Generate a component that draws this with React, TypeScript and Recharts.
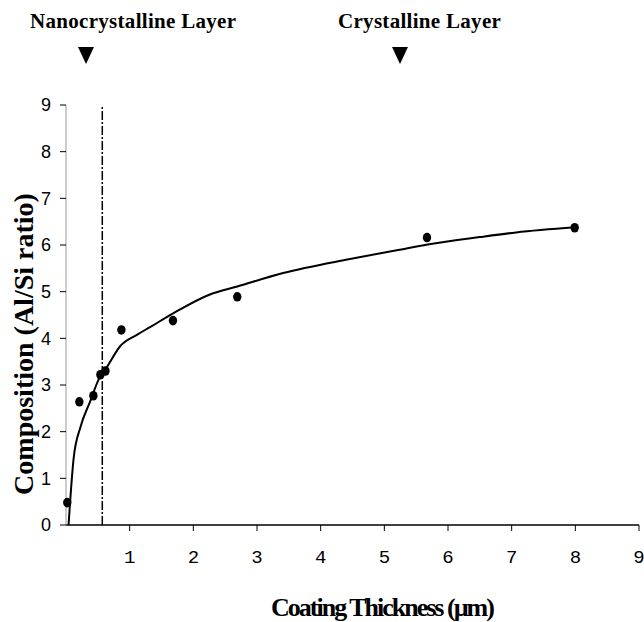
import { ComposedChart, Line, Scatter, XAxis, YAxis, ReferenceLine } from "recharts";

// measured points: coating thickness (um) vs Al/Si ratio
const thickness = [0.02, 0.21, 0.43, 0.54, 0.62, 0.87, 1.68, 2.69, 5.67, 7.99];
const ratio = [0.48, 2.64, 2.77, 3.22, 3.3, 4.18, 4.38, 4.89, 6.16, 6.37];

// fitted trend line
const fitX = [0.04, 0.12, 0.23, 0.38, 0.51, 0.65, 0.85, 1.12, 1.32, 1.69, 2.26, 2.69, 3.41, 4.46, 5.24, 5.68, 6.5, 7.07, 7.99];
const fitY = [0.0, 1.43, 2.11, 2.65, 3.11, 3.4, 3.83, 4.08, 4.24, 4.54, 4.94, 5.11, 5.4, 5.7, 5.9, 6.01, 6.17, 6.27, 6.38];

const xTicks = [1, 2, 3, 4, 5, 6, 7, 8, 9];
const yTicks = [0, 1, 2, 3, 4, 5, 6, 7, 8, 9];
const boundary = 0.57;

const points = thickness.map((x, i) => ({ x, y: ratio[i] }));
const fit = fitX.map((x, i) => ({ x, y: fitY[i] }));

const serif = "'Liberation Serif', 'Times New Roman', serif";

function Marker({ left }: { left: number }) {
  return (
    <svg style={{ position: "absolute", left: left - 8, top: 47 }} width={16} height={17}>
      <polygon points="0,0 16,0 8,17" fill="#000" />
    </svg>
  );
}

export default function App() {
  return (
    <div style={{ position: "absolute", left: 0, top: 0, width: 644, height: 622, background: "#fff" }}>
      <ComposedChart width={644} height={622} margin={{ top: 105, right: 5, left: 0, bottom: 57 }}>
        <XAxis
          type="number"
          dataKey="x"
          domain={[0, 9]}
          ticks={xTicks}
          interval={0}
          height={40}
          axisLine={{ stroke: "#000", strokeWidth: 1.5 }}
          tickLine={{ stroke: "#000" }}
          tickSize={6}
          tickMargin={19}
          tick={{ fill: "#000", fontSize: 19, fontFamily: "'Liberation Mono', monospace" }}
        />
        <YAxis
          type="number"
          dataKey="y"
          domain={[0, 9]}
          ticks={yTicks}
          interval={0}
          width={66}
          axisLine={{ stroke: "#999" }}
          tickLine={{ stroke: "#000" }}
          tickSize={6}
          tickMargin={9}
          tick={{ fill: "#000", fontSize: 18, fontFamily: "'Liberation Sans', Arial, sans-serif" }}
        />
        <ReferenceLine x={boundary} stroke="#000" strokeWidth={1.5} strokeDasharray="9 2 2 2" />
        <Line
          data={fit}
          dataKey="y"
          type="monotone"
          stroke="#000"
          strokeWidth={2}
          dot={false}
          isAnimationActive={false}
        />
        <Scatter
          data={points}
          dataKey="y"
          fill="#000"
          shape={(p: any) => <ellipse cx={p.cx} cy={p.cy} rx={4.2} ry={4.8} fill="#000" />}
          isAnimationActive={false}
        />
      </ComposedChart>

      <div style={{ position: "absolute", left: 30, top: 9, fontFamily: serif, fontWeight: 700, fontSize: 21, letterSpacing: 0.3, whiteSpace: "nowrap" }}>
        Nanocrystalline Layer
      </div>
      <div style={{ position: "absolute", left: 338, top: 9, fontFamily: serif, fontWeight: 700, fontSize: 21, letterSpacing: 0.3, whiteSpace: "nowrap" }}>
        Crystalline Layer
      </div>
      <Marker left={86} />
      <Marker left={400} />

      <div
        style={{
          position: "absolute",
          left: 24,
          top: 344,
          transform: "translate(-50%, -50%) rotate(-90deg)",
          fontFamily: serif,
          fontWeight: 700,
          fontSize: 28,
          whiteSpace: "nowrap",
        }}
      >
        Composition (Al/Si ratio)
      </div>
      <div
        style={{
          position: "absolute",
          left: 382,
          top: 608,
          transform: "translate(-50%, -50%)",
          fontFamily: serif,
          fontWeight: 700,
          fontSize: 26,
          letterSpacing: -2,
          whiteSpace: "nowrap",
        }}
      >
        Coating Thickness (µm)
      </div>
    </div>
  );
}
